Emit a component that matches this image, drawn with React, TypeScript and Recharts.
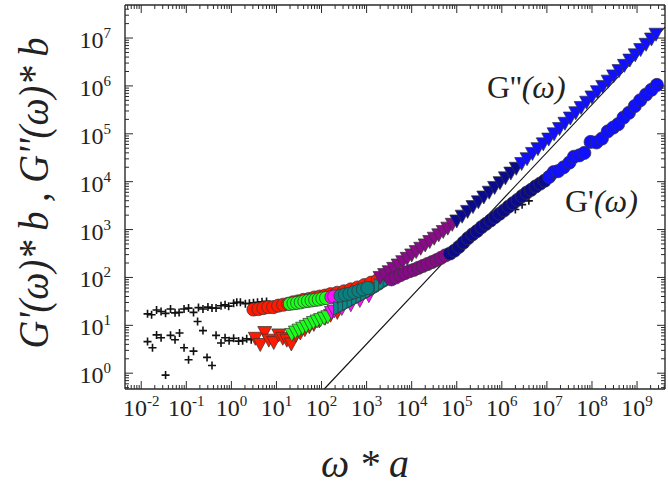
import React from 'react';
import { ReferenceLine, Scatter, ScatterChart, XAxis, YAxis } from 'recharts';

// All points are [log10(omega*a), log10(G*b)].
const plusUpper = [
  [-1.86, 1.24], [-1.77, 1.22], [-1.66, 1.32], [-1.56, 1.29], [-1.46, 1.25], [-1.35, 1.34], [-1.25, 1.26],
  [-1.16, 1.27], [-1.05, 1.34], [-0.95, 1.36], [-0.84, 1.27], [-0.73, 1.37], [-0.63, 1.34], [-0.52, 1.38],
  [-0.43, 1.36], [-0.34, 1.36], [-0.23, 1.41], [-0.14, 1.43], [-0.06, 1.4], [0.05, 1.46], [0.12, 1.48],
  [0.2, 1.48], [0.31, 1.45], [0.4, 1.46], [0.49, 1.47], [0.58, 1.48], [0.68, 1.49], [0.78, 1.5],
];
const plusLower = [
  [-1.86, 0.66], [-1.75, 0.53], [-1.66, 0.8], [-1.56, 0.74], [-1.46, -0.04], [-1.35, 0.79], [-1.25, 0.7],
  [-1.15, 0.84], [-1.05, 0.53], [-0.95, 0.28], [-0.84, 0.46], [-0.75, 1.08], [-0.63, 0.89], [-0.54, 0.33],
  [-0.43, 0.16], [-0.34, 0.79], [-0.23, 0.63], [-0.14, 0.74], [-0.05, 0.68], [0.05, 0.73], [0.16, 0.67],
  [0.25, 0.68], [0.34, 0.72], [0.44, 0.7], [0.55, 0.71],
];
const plusHigh = [[6.3, 3.42], [6.45, 3.52], [6.6, 3.6]];

const redCircles = [
  [0.49, 1.33], [0.6, 1.34], [0.71, 1.36], [0.82, 1.38], [0.93, 1.38], [1.04, 1.41], [1.15, 1.43], [1.26, 1.45],
  [1.37, 1.48], [1.48, 1.5], [1.6, 1.53], [1.72, 1.55], [1.84, 1.58], [1.96, 1.6], [2.08, 1.62], [2.2, 1.65],
  [2.35, 1.68], [2.5, 1.71], [2.65, 1.75], [2.8, 1.79], [2.95, 1.84], [3.1, 1.89], [3.25, 1.95],
];
const redTriangles = [
  [0.53, 0.74], [0.64, 0.61], [0.74, 0.86], [0.83, 0.7], [0.94, 0.65], [1.05, 0.81], [1.14, 0.74], [1.23, 0.7],
  [1.33, 0.62], [1.43, 0.8], [1.53, 0.85], [1.63, 0.92], [1.73, 0.98], [1.83, 1.03], [1.95, 1.1], [2.08, 1.16],
  [2.2, 1.22], [2.35, 1.28],
];
const greenCircles = [
  [1.3, 1.45], [1.38, 1.46], [1.46, 1.47], [1.54, 1.48], [1.62, 1.5], [1.7, 1.51], [1.78, 1.52], [1.86, 1.53],
  [1.94, 1.54], [2.02, 1.56], [2.1, 1.57],
];
const greenTriangles = [
  [1.34, 0.82], [1.42, 0.87], [1.5, 0.91], [1.58, 0.95], [1.66, 0.99], [1.74, 1.03], [1.82, 1.07], [1.9, 1.1],
  [1.98, 1.13], [2.06, 1.16], [2.14, 1.19],
];
const magentaCircles = [[2.22, 1.59], [2.28, 1.6]];
const magentaTriangles = [[2.22, 1.28], [2.28, 1.31], [2.45, 1.36], [2.65, 1.44], [2.85, 1.53], [3.05, 1.63]];
const tealCircles = [[2.42, 1.62], [2.52, 1.64], [2.62, 1.66], [2.72, 1.69], [2.82, 1.72], [2.92, 1.75], [3.02, 1.78]];
const tealTriangles = [
  [2.4, 1.36], [2.5, 1.41], [2.6, 1.46], [2.7, 1.51], [2.8, 1.56], [2.9, 1.61], [3.0, 1.66], [3.1, 1.71],
  [3.2, 1.77], [3.3, 1.83], [3.4, 1.89], [3.5, 1.95], [3.6, 2.01],
];
const purpleTriangles = [
  [3.3, 2.01], [3.4, 2.07], [3.5, 2.13], [3.6, 2.2], [3.7, 2.27], [3.8, 2.34], [3.9, 2.41], [4.0, 2.48],
  [4.1, 2.55], [4.2, 2.62], [4.3, 2.69], [4.4, 2.76], [4.5, 2.83], [4.6, 2.9], [4.7, 2.97], [4.8, 3.04], [4.9, 3.12],
];
const purpleCircles = [
  [3.55, 1.96], [3.65, 2.0], [3.75, 2.05], [3.85, 2.09], [3.95, 2.13], [4.05, 2.16], [4.15, 2.2], [4.25, 2.24],
  [4.35, 2.28], [4.45, 2.32], [4.55, 2.36], [4.65, 2.41], [4.75, 2.46],
];
const navyTriangles = [
  [5.0, 3.19], [5.12, 3.29], [5.24, 3.39], [5.36, 3.49], [5.48, 3.59], [5.6, 3.69], [5.72, 3.79], [5.84, 3.89],
  [5.96, 3.99], [6.08, 4.09], [6.2, 4.19], [6.32, 4.29],
];
const navyCircles = [
  [4.85, 2.5], [4.95, 2.56], [5.05, 2.64], [5.15, 2.73], [5.25, 2.82], [5.35, 2.9], [5.45, 2.97], [5.55, 3.05],
  [5.65, 3.12], [5.75, 3.19], [5.85, 3.26], [5.95, 3.33], [6.05, 3.4], [6.15, 3.48], [6.25, 3.55], [6.35, 3.62],
  [6.45, 3.7], [6.55, 3.77], [6.65, 3.83], [6.75, 3.9], [6.85, 3.96], [6.95, 4.02],
];
const blueTriangles = [
  [6.44, 4.39], [6.56, 4.49], [6.68, 4.6], [6.8, 4.7], [6.92, 4.8], [7.04, 4.9], [7.16, 5.01], [7.28, 5.12],
  [7.4, 5.23], [7.52, 5.34], [7.64, 5.45], [7.76, 5.56], [7.88, 5.67], [8.0, 5.78], [8.12, 5.89], [8.24, 6.0],
  [8.36, 6.11], [8.48, 6.22], [8.6, 6.33], [8.72, 6.44], [8.84, 6.55], [8.96, 6.66], [9.08, 6.77], [9.2, 6.88],
  [9.32, 6.99], [9.42, 7.09],
];
const blueCircles = [
  [7.05, 4.1], [7.15, 4.2], [7.25, 4.22], [7.37, 4.3], [7.5, 4.4], [7.6, 4.52], [7.72, 4.55],
  [7.83, 4.6], [7.97, 4.83], [8.1, 4.82], [8.22, 4.9], [8.35, 5.05], [8.47, 5.13],
  [8.58, 5.2], [8.7, 5.34], [8.82, 5.44], [8.95, 5.58], [9.07, 5.7], [9.2, 5.82],
  [9.32, 5.92], [9.44, 6.02],
];

// slope-1 guide line, endpoints in log10 units
const guideLine = [[2.06, -0.33], [9.62, 7.23]];

const xDecades = [-2, -1, 0, 1, 2, 3, 4, 5, 6, 7, 8, 9];
const yDecades = [0, 1, 2, 3, 4, 5, 6, 7];
const xRangeLog = [-2.36, 9.62];
const yRangeLog = [-0.33, 7.69];

const W = 668;
const H = 488;
const LEFT = 125;
const TOP = 5;
const RIGHT = 665;
const BOTTOM = 389;
const INK = '#2a2a2a';
const SERIF = "'Liberation Serif', 'Times New Roman', Times, serif";

const toPts = (arr: number[][]) => arr.map(([lx, ly]) => ({ x: 10 ** lx, y: 10 ** ly }));

function withMinors(decades: number[], range: number[]) {
  const out: number[] = [];
  const lo = 10 ** range[0];
  const hi = 10 ** range[1];
  const all = [decades[0] - 1, ...decades];
  all.forEach((d) => {
    for (let m = 1; m <= 9; m++) {
      const v = m * 10 ** d;
      if (v >= lo && v <= hi) out.push(v);
    }
  });
  return out;
}

const isMajor = (v: number) => {
  const e = Math.log10(v);
  return Math.abs(e - Math.round(e)) < 1e-6;
};

const labelStyle: React.CSSProperties = { fontFamily: SERIF, fontSize: 24 };
const supStyle: React.CSSProperties = { fontSize: 15 };

function XTick(props: any) {
  const { x, payload } = props;
  const major = isMajor(payload.value);
  const len = major ? 8 : 4;
  const e = Math.round(Math.log10(payload.value));
  return (
    <g>
      <line x1={x} x2={x} y1={BOTTOM} y2={BOTTOM - len} stroke={INK} strokeWidth={1} />
      <line x1={x} x2={x} y1={TOP} y2={TOP + len} stroke={INK} strokeWidth={1} />
      {major && (
        <text x={x} y={416} textAnchor="middle" style={labelStyle} fill="#222">
          10<tspan dy={-10} style={supStyle}>{e}</tspan>
        </text>
      )}
    </g>
  );
}

function YTick(props: any) {
  const { y, payload } = props;
  const major = isMajor(payload.value);
  const len = major ? 8 : 4;
  const e = Math.round(Math.log10(payload.value));
  return (
    <g>
      <line x1={LEFT} x2={LEFT + len} y1={y} y2={y} stroke={INK} strokeWidth={1} />
      <line x1={RIGHT} x2={RIGHT - len} y1={y} y2={y} stroke={INK} strokeWidth={1} />
      {major && (
        <text x={111} y={y + 10} textAnchor="end" style={labelStyle} fill="#222">
          10<tspan dy={-10} style={supStyle}>{e}</tspan>
        </text>
      )}
    </g>
  );
}

const EDGE = '#333';
const circle = (fill: string) => (p: any) => (
  <circle cx={p.cx} cy={p.cy} r={6.6} fill={fill} stroke={EDGE} strokeWidth={0.7} />
);
const triDown = (fill: string) => (p: any) => (
  <polygon
    points={`${p.cx - 7},${p.cy - 5.5} ${p.cx + 7},${p.cy - 5.5} ${p.cx},${p.cy + 7.5}`}
    fill={fill}
    stroke={EDGE}
    strokeWidth={0.7}
  />
);
const triRight = (fill: string) => (p: any) => (
  <polygon
    points={`${p.cx - 6},${p.cy - 7} ${p.cx - 6},${p.cy + 7} ${p.cx + 7.5},${p.cy}`}
    fill={fill}
    stroke={EDGE}
    strokeWidth={0.7}
  />
);
const plus = (p: any) => (
  <path d={`M${p.cx - 4},${p.cy}H${p.cx + 4}M${p.cx},${p.cy - 4}V${p.cy + 4}`} stroke="#111" strokeWidth={1.6} />
);

const series: { data: number[][]; shape: any }[] = [
  { data: plusUpper, shape: plus },
  { data: plusLower, shape: plus },
  { data: redTriangles, shape: triDown('#ff1a00') },
  { data: redCircles, shape: circle('#ff1a00') },
  { data: greenTriangles, shape: triDown('#1aff1a') },
  { data: greenCircles, shape: circle('#1aff1a') },
  { data: magentaTriangles, shape: triDown('#ff10ff') },
  { data: magentaCircles, shape: circle('#ff10ff') },
  { data: tealTriangles, shape: triRight('#0a8a8a') },
  { data: tealCircles, shape: circle('#0a8080') },
  { data: purpleTriangles, shape: triDown('#8a0a8a') },
  { data: purpleCircles, shape: circle('#850a85') },
  { data: plusHigh, shape: plus },
  { data: navyTriangles, shape: triDown('#0a0a90') },
  { data: navyCircles, shape: circle('#0a0a8a') },
  { data: blueTriangles, shape: triDown('#1010ff') },
  { data: blueCircles, shape: circle('#1010ff') },
];

export default function App() {
  const xMin = 10 ** xRangeLog[0];
  const xMax = 10 ** xRangeLog[1];
  const yMin = 10 ** yRangeLog[0];
  const yMax = 10 ** yRangeLog[1];
  const titleFont: React.CSSProperties = { fontFamily: SERIF, fontStyle: 'italic' };
  return (
    <div style={{ position: 'absolute', left: 0, top: 0, width: W, height: H, background: '#fff' }}>
      <ScatterChart width={W} height={H} margin={{ top: TOP, right: W - RIGHT, bottom: H - BOTTOM - 60, left: LEFT - 60 }}>
        <XAxis
          type="number"
          dataKey="x"
          scale="log"
          domain={[xMin, xMax]}
          allowDataOverflow
          ticks={withMinors(xDecades, xRangeLog)}
          interval={0}
          tick={XTick}
          tickLine={false}
          axisLine={{ stroke: INK, strokeWidth: 1.4 }}
          height={60}
        />
        <YAxis
          type="number"
          dataKey="y"
          scale="log"
          domain={[yMin, yMax]}
          allowDataOverflow
          ticks={withMinors(yDecades, yRangeLog)}
          interval={0}
          tick={YTick}
          tickLine={false}
          axisLine={{ stroke: INK, strokeWidth: 1.4 }}
          width={60}
        />
        <ReferenceLine y={yMax} stroke={INK} strokeWidth={1.4} ifOverflow="visible" />
        <ReferenceLine x={xMax} stroke={INK} strokeWidth={1.4} ifOverflow="visible" />
        {series.map((s, i) => (
          <Scatter key={i} data={toPts(s.data)} shape={s.shape} isAnimationActive={false} />
        ))}
        <ReferenceLine
          segment={guideLine.map(([lx, ly]) => ({ x: 10 ** lx, y: 10 ** ly }))}
          stroke="#111"
          strokeWidth={1.1}
          ifOverflow="visible"
        />
      </ScatterChart>
      <svg width={W} height={H} style={{ position: 'absolute', left: 0, top: 0, pointerEvents: 'none' }}>
        <text
          transform="translate(48,193) rotate(-90)"
          textAnchor="middle"
          style={{ ...titleFont, fontSize: 42 }}
          fill="#222"
          textLength={311}
          lengthAdjust="spacingAndGlyphs"
        >
          G'(ω)* b , G''(ω)* b
        </text>
        <text x={365} y={477} textAnchor="middle" style={{ ...titleFont, fontSize: 40 }} fill="#222">
          ω * a
        </text>
        <text x={487} y={98} style={{ fontFamily: SERIF, fontSize: 32 }} fill="#222">
          G''<tspan style={{ fontStyle: 'italic' }}>(ω)</tspan>
        </text>
        <text x={565} y={212} style={{ fontFamily: SERIF, fontSize: 32 }} fill="#222">
          G'<tspan style={{ fontStyle: 'italic' }}>(ω)</tspan>
        </text>
      </svg>
    </div>
  );
}
